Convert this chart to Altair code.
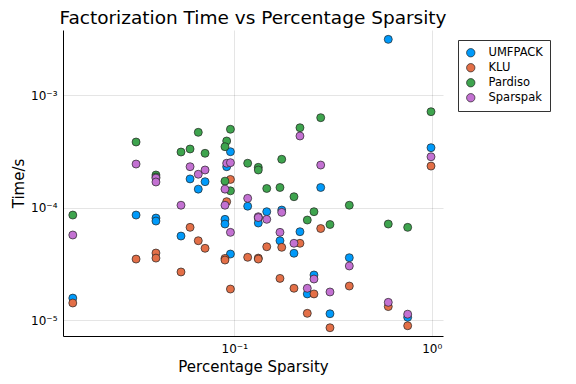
import altair as alt
import pandas as pd

solvers = ["UMFPACK", "KLU", "Pardiso", "Sparspak"]
colors = ["#009AFA", "#E36F47", "#3EA44E", "#C371D2"]

sparsity = [0.0152, 0.0318, 0.0401, 0.0401, 0.0537, 0.0597, 0.0657, 0.0711, 0.0915, 0.0897,
            0.0897, 0.0956, 0.0956, 0.1169, 0.1323, 0.1323, 0.146, 0.1739, 0.1704, 0.2006,
            0.2151, 0.2343, 0.2533, 0.274, 0.3053, 0.3825, 0.6026, 0.7557, 0.992]

umfpack = [1.57e-5, 8.59e-5, 8.08e-5, 7.60e-5, 5.59e-5, 1.80e-4, 1.46e-4, 1.70e-4, 2.31e-4, 7.87e-5,
           7.15e-5, 3.14e-4, 3.87e-5, 1.03e-4, 8.08e-5, 7.30e-5, 9.20e-5, 9.52e-5, 5.08e-5, 3.93e-5,
           6.11e-5, 1.71e-5, 2.52e-5, 1.51e-4, 1.14e-5, 3.59e-5, 3.13e-3, 1.06e-5, 3.41e-4]
klu = [1.42e-5, 3.49e-5, 3.95e-5, 3.56e-5, 2.68e-5, 6.68e-5, 5.08e-5, 4.35e-5, 1.13e-4, 3.54e-5,
       3.42e-5, 1.78e-4, 1.89e-5, 3.62e-5, 3.56e-5, 3.49e-5, 4.49e-5, 4.44e-5, 2.35e-5, 1.92e-5,
       4.82e-5, 1.15e-5, 1.71e-5, 6.52e-5, 8.56e-6, 2.01e-5, 1.32e-5, 8.92e-6, 2.34e-4]
pardiso = [8.59e-5, 3.83e-4, 1.95e-4, 1.87e-4, 3.12e-4, 3.32e-4, 4.67e-4, 3.04e-4, 3.91e-4, 3.48e-4,
           1.72e-4, 4.97e-4, 1.41e-4, 2.48e-4, 2.28e-4, 2.16e-4, 1.48e-4, 2.69e-4, 1.51e-4, 1.25e-4,
           5.13e-4, 7.76e-5, 9.20e-5, 6.30e-4, 7.08e-5, 1.05e-4, 7.15e-5, 6.68e-5, 7.12e-4]
sparspak = [5.71e-5, 2.44e-4, 1.83e-4, 1.69e-4, 1.05e-4, 2.31e-4, 1.98e-4, 2.16e-4, 2.48e-4, 1.46e-4,
            1.05e-4, 2.51e-4, 6.03e-5, 1.21e-4, 8.30e-5, 8.16e-5, 7.87e-5, 9.08e-5, 6.03e-5, 4.82e-5,
            4.33e-4, 1.92e-5, 2.32e-5, 2.39e-4, 1.78e-5, 3.03e-5, 1.44e-5, 1.13e-5, 2.83e-4]

x_ticks = [0.1, 1.0]
y_ticks = [1e-5, 1e-4, 1e-3]

rows = []
for name, vals in zip(solvers, [umfpack, klu, pardiso, sparspak]):
    for s, t in zip(sparsity, vals):
        rows.append({"solver": name, "sparsity": s, "time": t, "ord": solvers.index(name)})
df = pd.DataFrame(rows)

label_expr = ("datum.value < 2e-5 ? '10⁻⁵' : datum.value < 2e-4 ? '10⁻⁴' : "
              "datum.value < 2e-3 ? '10⁻³' : datum.value < 0.5 ? '10⁻¹' : '10⁰'")

chart = alt.Chart(df).mark_circle(
    size=64, opacity=1, stroke="#222222", strokeWidth=0.7
).encode(
    x=alt.X("sparsity:Q",
            scale=alt.Scale(type="log", domain=[0.01356, 1.141], nice=False, zero=False),
            axis=alt.Axis(values=x_ticks, labelExpr=label_expr, title="Percentage Sparsity")),
    y=alt.Y("time:Q",
            scale=alt.Scale(type="log", domain=[7.23e-6, 3.79e-3], nice=False, zero=False),
            axis=alt.Axis(values=y_ticks, labelExpr=label_expr, title="Time/s")),
    color=alt.Color("solver:N",
                    scale=alt.Scale(domain=solvers, range=colors),
                    legend=alt.Legend(title=None, orient="none", legendX=395, legendY=10,
                                      strokeColor="#333333", fillColor="white", padding=7,
                                      labelFontSize=11.5, symbolSize=70, symbolType="circle",
                                      symbolStrokeColor="#222222", symbolStrokeWidth=0.7,
                                      rowPadding=2, labelOffset=12)),
    order=alt.Order("ord:Q"),
).properties(
    width=380, height=306,
    title=alt.TitleParams("Factorization Time vs Percentage Sparsity", fontSize=18.5,
                          fontWeight="normal", anchor="middle", offset=3, color="black"),
    autosize=alt.AutoSizeParams(type="none"),
    padding={"left": 55, "top": 22, "right": 125, "bottom": 46},
).configure(
    font="DejaVu Sans",
).configure_view(
    stroke=None,
).configure_axis(
    domainColor="black", domainWidth=1, tickSize=0, labelPadding=6,
    labelFontSize=12, labelColor="black", titleFontSize=15, titleFontWeight="normal",
    titleColor="black", gridColor="black", gridOpacity=0.1, gridWidth=1,
).configure_axisX(titlePadding=5, labelPadding=7).configure_axisY(titlePadding=4)

chart.save("out.html", embed_options={"renderer": "svg", "actions": False})
